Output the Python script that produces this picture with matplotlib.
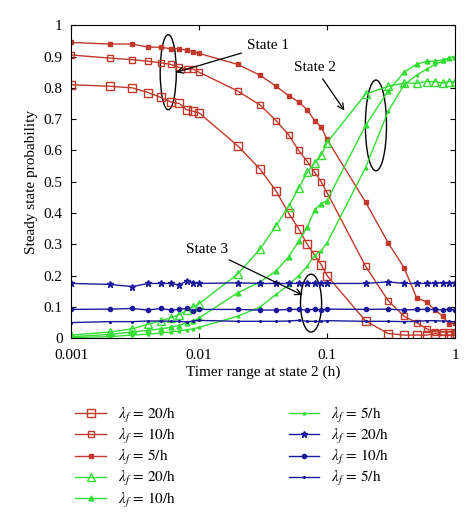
import matplotlib
matplotlib.use("Agg")
import matplotlib.pyplot as plt
from matplotlib.patches import Ellipse

plt.rcParams['font.family'] = ['Liberation Serif', 'DejaVu Serif']
plt.rcParams['mathtext.fontset'] = 'stix'

x = [0.001, 0.002, 0.003, 0.004, 0.005, 0.006, 0.007, 0.008, 0.009, 0.01,
     0.02, 0.03, 0.04, 0.05, 0.06, 0.07, 0.08, 0.09, 0.1,
     0.2, 0.3, 0.4, 0.5, 0.6, 0.7, 0.8, 0.9, 1.0]

s1_20 = [0.81, 0.805, 0.80, 0.785, 0.77, 0.755, 0.75, 0.73, 0.725, 0.72,
         0.615, 0.54, 0.47, 0.40, 0.35, 0.30, 0.265, 0.235, 0.20,
         0.055, 0.015, 0.01, 0.01, 0.01, 0.015, 0.01, 0.01, 0.015]
s1_10 = [0.905, 0.895, 0.89, 0.885, 0.88, 0.875, 0.865, 0.86, 0.86, 0.85,
         0.79, 0.745, 0.695, 0.65, 0.60, 0.565, 0.53, 0.50, 0.465,
         0.23, 0.12, 0.07, 0.05, 0.03, 0.02, 0.02, 0.02, 0.02]
s1_5 = [0.945, 0.94, 0.94, 0.93, 0.93, 0.925, 0.925, 0.92, 0.915, 0.91,
        0.875, 0.84, 0.805, 0.775, 0.755, 0.73, 0.695, 0.675, 0.635,
        0.435, 0.305, 0.225, 0.13, 0.115, 0.09, 0.07, 0.045, 0.05]

s2_20 = [0.01, 0.02, 0.03, 0.045, 0.055, 0.065, 0.075, 0.09, 0.10, 0.11,
         0.205, 0.285, 0.36, 0.42, 0.48, 0.53, 0.56, 0.585, 0.625,
         0.78, 0.805, 0.815, 0.815, 0.82, 0.82, 0.815, 0.82, 0.82]
s2_10 = [0.005, 0.012, 0.02, 0.025, 0.03, 0.035, 0.04, 0.05, 0.055, 0.065,
         0.145, 0.18, 0.215, 0.26, 0.31, 0.355, 0.41, 0.43, 0.44,
         0.68, 0.79, 0.85, 0.875, 0.885, 0.885, 0.89, 0.895, 0.90]
s2_5 = [0.002, 0.005, 0.01, 0.013, 0.016, 0.02, 0.023, 0.027, 0.03, 0.035,
        0.07, 0.10, 0.14, 0.17, 0.20, 0.23, 0.265, 0.28, 0.305,
        0.545, 0.725, 0.81, 0.84, 0.86, 0.875, 0.885, 0.895, 0.90]

s3_20 = [0.175, 0.172, 0.165, 0.175, 0.175, 0.175, 0.17, 0.183, 0.178, 0.175,
         0.177, 0.175, 0.175, 0.175, 0.175, 0.175, 0.175, 0.175, 0.175,
         0.175, 0.18, 0.175, 0.175, 0.175, 0.175, 0.177, 0.175, 0.175]
s3_10 = [0.092, 0.093, 0.095, 0.09, 0.095, 0.09, 0.092, 0.095, 0.088, 0.092,
         0.092, 0.09, 0.09, 0.092, 0.092, 0.09, 0.093, 0.09, 0.093,
         0.092, 0.093, 0.09, 0.092, 0.092, 0.092, 0.09, 0.093, 0.09]
s3_5 = [0.05, 0.053, 0.053, 0.055, 0.055, 0.054, 0.054, 0.052, 0.055, 0.057,
        0.054, 0.054, 0.054, 0.055, 0.057, 0.054, 0.054, 0.054, 0.056,
        0.054, 0.054, 0.053, 0.054, 0.056, 0.056, 0.055, 0.054, 0.052]

labels = [r'$\lambda_f\,=\,20/\mathrm{h}$', r'$\lambda_f\,=\,10/\mathrm{h}$', r'$\lambda_f\,=\,5/\mathrm{h}$']

red, green, blue = '#c0392b', '#33dd33', '#1a1a9a'

fig = plt.figure(figsize=(4.74, 5.26), dpi=100)
ax = fig.add_axes([0.15, 0.357, 0.81, 0.595])

styles = [
    (s1_20, red, 's', 6, 'none'), (s1_10, red, 's', 4, 'none'), (s1_5, red, 's', 2.5, red),
    (s2_20, green, '^', 6, 'none'), (s2_10, green, '^', 3.5, green), (s2_5, green, '^', 2, green),
    (s3_20, blue, '*', 5, blue), (s3_10, blue, 'o', 3, blue), (s3_5, blue, '.', 2.5, blue),
]
handles = []
for i, (y, c, m, ms, fc) in enumerate(styles):
    h, = ax.plot(x, y, color=c, marker=m, ms=ms, mfc=fc, mec=c, lw=1.0, label=labels[i % 3])
    handles.append(h)

ax.set_xscale('log')
ax.set_xlim(0.001, 1)
ax.set_ylim(0, 1)
ax.set_xticks([0.001, 0.01, 0.1, 1])
ax.set_xticklabels(['0.001', '0.01', '0.1', '1'])
ax.set_yticks([i / 10 for i in range(11)])
ax.set_yticklabels(['0', '0.1', '0.2', '0.3', '0.4', '0.5', '0.6', '0.7', '0.8', '0.9', '1'])
ax.minorticks_off()
ax.tick_params(direction='in', labelsize=11, top=True, right=True)
ax.tick_params(axis='x', pad=8)
ax.tick_params(axis='y', pad=6)
ax.set_xlabel('Timer range at state 2 (h)', fontsize=11, labelpad=2)
ax.set_ylabel('Steady state probability', fontsize=11)

for cx, cy, w, hgt in [(0.253, 0.85, 0.042, 0.24), (0.794, 0.68, 0.055, 0.29), (0.625, 0.112, 0.055, 0.185)]:
    ax.add_patch(Ellipse((cx, cy), w, hgt, transform=ax.transAxes, fill=False, lw=1.0, color='black'))

arrow = dict(arrowstyle='->', color='black', lw=0.9)
ax.annotate('State 1', xy=(0.266, 0.847), xytext=(0.458, 0.936), xycoords='axes fraction',
            textcoords='axes fraction', fontsize=11, arrowprops=arrow, va='center', ha='left')
ax.annotate('State 2', xy=(0.716, 0.72), xytext=(0.58, 0.866), xycoords='axes fraction',
            textcoords='axes fraction', fontsize=11, arrowprops=arrow, va='center', ha='left')
ax.annotate('State 3', xy=(0.609, 0.134), xytext=(0.30, 0.284), xycoords='axes fraction',
            textcoords='axes fraction', fontsize=11, arrowprops=arrow, va='center', ha='left')

fig.legend(handles[:5], [labels[0], labels[1], labels[2], labels[0], labels[1]],
           loc='upper left', bbox_to_anchor=(0.13, 0.255), frameon=False, fontsize=11,
           handlelength=2, labelspacing=0.15)
fig.legend(handles[5:], [labels[2], labels[0], labels[1], labels[2]],
           loc='upper left', bbox_to_anchor=(0.58, 0.255), frameon=False, fontsize=11,
           handlelength=2, labelspacing=0.15)

fig.savefig('out.png', dpi=100)
